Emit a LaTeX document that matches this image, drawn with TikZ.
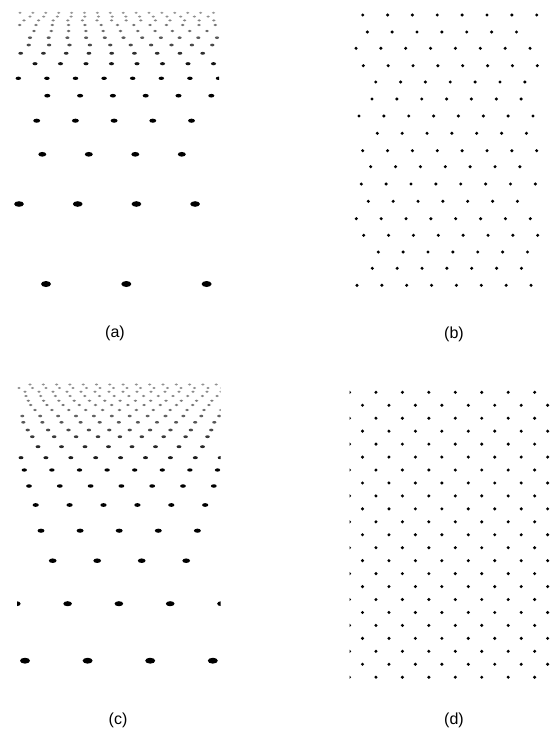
\documentclass[tikz,border=0pt]{standalone}
\usepackage{fontspec}
\setmainfont{Liberation Sans}
\begin{document}
\begin{tikzpicture}[x=1pt,y=-1pt]
\tikzset{lab/.style={font=\fontsize{16}{18}\selectfont, inner sep=0pt, anchor=center},
         flatdot/.style={fill=black!#1}, flatdot/.default=100,
         rounddot/.style={fill=black}}
\useasboundingbox (0,0) rectangle (556,734);
\fill[white] (0,0) rectangle (556,734);

% ---------- (a) perspective view ----------
\begin{scope}
\clip (14,0) rectangle (219,300);
\foreach \yy/\xo/\s in {284/46/80.3, 204/19/58.7, 154.3/42.3/46.5, 120.7/36.7/38.7,
  95.7/47.3/32.8, 78.3/18.3/28.6, 63.7/35/25.5, 53.3/20.7/22.75, 45/28.7/20.4,
  37.7/30/18.7, 31/34/17.3, 25/19.7/16.3, 20.4/24/14.6, 16.6/30/13.7, 12.8/20/12.9} {
  \pgfmathsetmacro\rw{min(10,1.5+0.14*\s)/2}
  \pgfmathsetmacro\rh{min(6,1.2+0.075*\s)/2}
  \pgfmathtruncatemacro\gv{min(100,4*\s-10)}
  \foreach \j in {0,...,16} {
    \pgfmathsetmacro\xx{\xo+\j*\s}
    \pgfmathtruncatemacro\ok{\xx<224?1:0}
    \ifnum\ok=1
      \fill[flatdot=\gv] (\xx,\yy) ellipse [x radius=\rw pt, y radius=\rh pt];
    \fi
  }
}
\end{scope}

% ---------- (c) perspective view ----------
\begin{scope}
\clip (17,375) rectangle (220.5,700);
\foreach \yy/\xo/\s in {660.7/25/62.6, 603.7/16.3/51.3, 560.7/52.7/44.5, 530.7/41/39.1,
  505/35.7/33.9, 486/29/30.8, 470/24.3/27.6, 457.7/21/24.9, 446.7/38/23.5,
  436.7/32.3/21.9, 430/27.7/20.4, 422.3/23.3/19.1, 416/22.3/17.9, 410/35/16.9,
  405/30.7/16.2, 400.7/28.3/15.3, 396/26/14.7, 391.7/25/14, 388/19/13.5, 384.5/30/13.3} {
  \pgfmathsetmacro\rw{min(10,1.5+0.14*\s)/2}
  \pgfmathsetmacro\rh{min(6,1.2+0.075*\s)/2}
  \pgfmathtruncatemacro\gv{min(100,4*\s-10)}
  \foreach \j in {0,...,16} {
    \pgfmathsetmacro\xx{\xo+\j*\s}
    \pgfmathtruncatemacro\ok{\xx<226?1:0}
    \ifnum\ok=1
      \fill[flatdot=\gv] (\xx,\yy) ellipse [x radius=\rw pt, y radius=\rh pt];
    \fi
  }
}
\end{scope}

% ---------- (b) rectified lattice ----------
\foreach \yy/\xo in {15/362.7, 32/367.3, 48.3/356, 65.7/363.3, 82/375.7, 99/372,
  116/359, 133.3/377.3, 150.7/362.7, 166.7/370.7, 184/361.3, 201.3/368.3,
  218.7/356.3, 235.3/363.7, 252/378.3, 268.3/372.3, 285.3/357} {
  \foreach \j in {0,...,8} {
    \pgfmathsetmacro\xx{\xo+\j*24.86}
    \pgfmathtruncatemacro\ok{\xx<540.5?1:0}
    \ifnum\ok=1
      \fill[rounddot] (\xx,\yy) circle [radius=1.7pt];
    \fi
  }
}

% ---------- (d) rectified lattice ----------
\begin{scope}
\clip (349.5,380) rectangle (556,700);
\foreach \i in {0,...,22} {
  \pgfmathsetmacro\yy{392.3+12.95*\i}
  \pgfmathsetmacro\xo{mod(\i,2)==0 ? 349.5 : 362.5}
  \foreach \j in {0,...,7} {
    \fill[rounddot] ({\xo+\j*26.45},\yy) circle [radius=1.7pt];
  }
}
\end{scope}

% ---------- labels ----------
\node[lab] (la) at (115,333) {(a)};
\node[lab] (lb) at (454,334) {(b)};
\node[lab] (lc) at (118,720) {(c)};
\node[lab] (ld) at (454,720) {(d)};
\end{tikzpicture}
\end{document}
